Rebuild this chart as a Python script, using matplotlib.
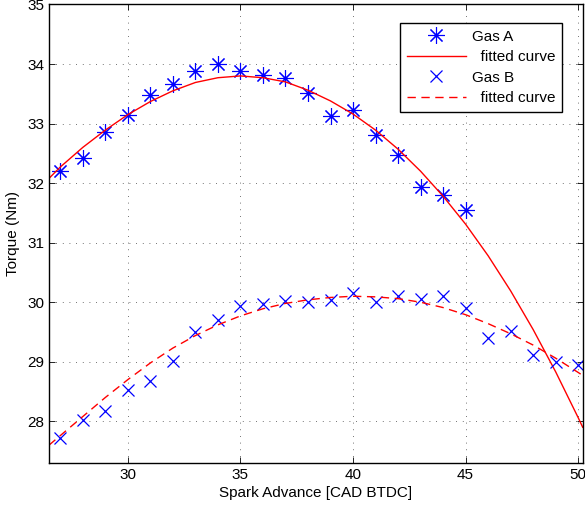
import numpy as np
import matplotlib
matplotlib.use("Agg")
import matplotlib.pyplot as plt

plt.rcParams["font.family"] = ["Liberation Sans", "DejaVu Sans"]

# ── Data ─────────────────────────────────────────────────────────────────────
spark_a = [27, 28, 29, 30, 31, 32, 33, 34, 35, 36, 37, 38, 39, 40, 41, 42, 43, 44, 45]
torque_a = [32.20, 32.42, 32.85, 33.15, 33.48, 33.67, 33.88, 34.00, 33.88, 33.82,
            33.77, 33.52, 33.13, 33.22, 32.80, 32.47, 31.93, 31.80, 31.55]

spark_b = [27, 28, 29, 30, 31, 32, 33, 34, 35, 36, 37, 38, 39, 40, 41, 42, 43, 44,
           45, 46, 47, 48, 49, 50]
torque_b = [27.72, 28.03, 28.18, 28.53, 28.68, 29.02, 29.50, 29.70, 29.93, 29.97,
            30.02, 30.01, 30.04, 30.15, 30.00, 30.10, 30.05, 30.10, 29.90, 29.40,
            29.52, 29.12, 29.00, 28.95]

fit_x = [26.5, 27, 28, 29, 30, 31, 32, 33, 34, 35, 36, 37, 38, 39, 40, 41, 42, 43,
         44, 45, 46, 47, 48, 49, 50, 50.2]
fit_a = [32.08, 32.27, 32.60, 32.89, 33.15, 33.37, 33.55, 33.69, 33.77, 33.80, 33.77,
         33.70, 33.56, 33.38, 33.16, 32.89, 32.57, 32.20, 31.78, 31.31, 30.78, 30.19,
         29.54, 28.83, 28.06, 27.90]
fit_b = [27.60, 27.76, 28.08, 28.40, 28.70, 28.98, 29.23, 29.44, 29.62, 29.77, 29.89,
         29.98, 30.04, 30.08, 30.10, 30.09, 30.06, 30.00, 29.91, 29.79, 29.64, 29.47,
         29.28, 29.06, 28.82, 28.77]

x_ticks = [30, 35, 40, 45, 50]
y_ticks = [28, 29, 30, 31, 32, 33, 34, 35]

# ── Plot ─────────────────────────────────────────────────────────────────────
fig = plt.figure(figsize=(5.85, 5.08), dpi=100)
ax = fig.add_axes([0.0838, 0.0886, 0.9123, 0.9026])

asterisk = (8, 2, 0)
ax.plot(spark_a, torque_a, linestyle="none", marker=asterisk, markersize=12,
        markeredgewidth=0.8, color="#0000ff", label="Gas A")
ax.plot(fit_x, fit_a, "-", color="#ff0000", lw=1.0, label="  fitted curve")
ax.plot(spark_b, torque_b, linestyle="none", marker="x", markersize=9,
        markeredgewidth=0.9, color="#0000ff", label="Gas B")
ax.plot(fit_x, fit_b, "--", color="#ff0000", lw=1.0, dashes=(6, 4),
        label="  fitted curve")

ax.set_xlim(26.5, 50.2)
ax.set_ylim(27.3, 35)
ax.set_xticks(x_ticks)
ax.set_yticks(y_ticks)
ax.tick_params(direction="in", labelsize=11, length=4, width=0.6,
               top=True, right=True)
ax.grid(True, linestyle=(0, (1, 7)), color="#444444", lw=0.6)
for sp in ax.spines.values():
    sp.set_linewidth(1.0)

ax.set_xlabel("Spark Advance [CAD BTDC]", fontsize=11, labelpad=3)
ax.set_ylabel("Torque (Nm)", fontsize=11, labelpad=5)

leg = ax.legend(loc="upper right", bbox_to_anchor=(0.961, 0.96),
                borderaxespad=0, fontsize=11, frameon=True, fancybox=False,
                edgecolor="black", framealpha=1, handlelength=3.9,
                labelspacing=0.42, handletextpad=0.35, borderpad=0.45)
leg.get_frame().set_linewidth(1.0)

fig.savefig("out.png", dpi=100)
